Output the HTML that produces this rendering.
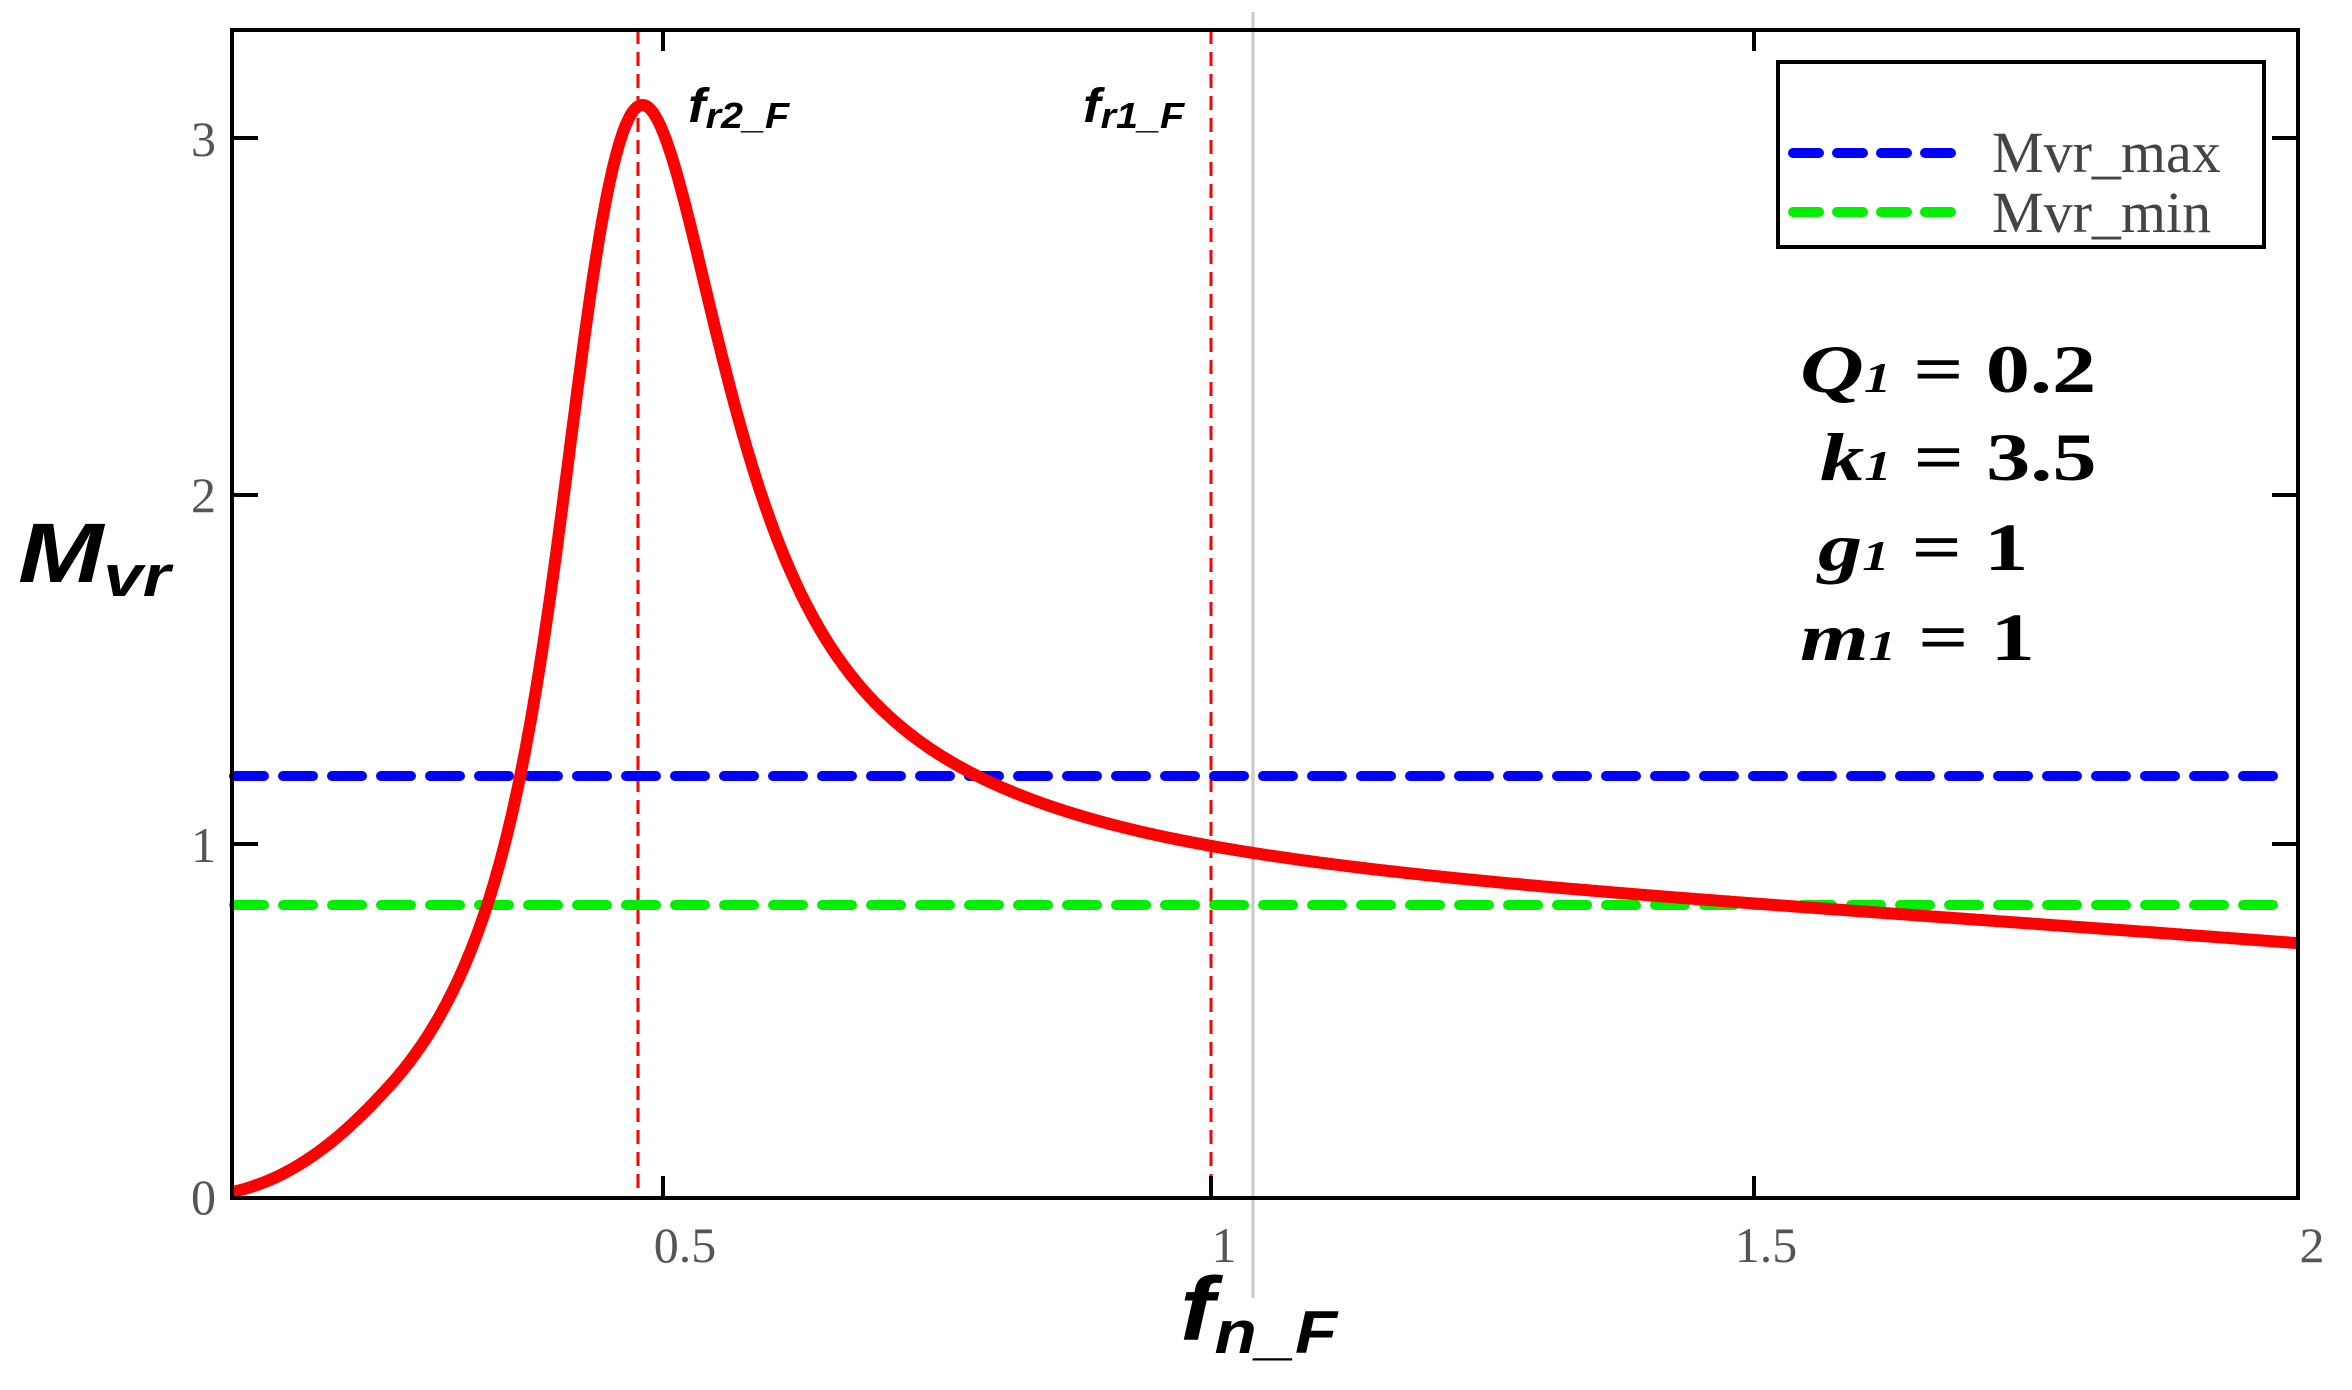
<!DOCTYPE html>
<html><head><meta charset="utf-8"><style>
html,body{margin:0;padding:0;background:#fff;}
svg{display:block;}
</style></head><body>
<svg id="s" width="2352" height="1390" viewBox="0 0 2352 1390" xmlns="http://www.w3.org/2000/svg">
<rect width="2352" height="1390" fill="#fff"/>
<line x1="1253" y1="12" x2="1253" y2="1298" stroke="#c8c8c8" stroke-width="3"/>
<line x1="638" y1="30" x2="638" y2="1197" stroke="#ff0000" stroke-width="3" stroke-dasharray="14,8"/>
<line x1="1211" y1="30" x2="1211" y2="1197" stroke="#ff0000" stroke-width="3" stroke-dasharray="14,8"/>
<line x1="234" y1="776" x2="2290" y2="776" stroke="#0000ff" stroke-width="10" stroke-dasharray="30,19" stroke-linecap="round"/>
<line x1="234" y1="905" x2="2290" y2="905" stroke="#00ee00" stroke-width="10" stroke-dasharray="30,19" stroke-linecap="round"/>
<path id="curve" d="" fill="none" stroke="#ff0000" stroke-width="12" stroke-linejoin="round"/>
<rect x="232" y="30" width="2066" height="1168" fill="none" stroke="#000" stroke-width="4"/>
<g stroke="#000" stroke-width="4">
<line x1="663" y1="1197" x2="663" y2="1176"/><line x1="1211" y1="1197" x2="1211" y2="1176"/><line x1="1754" y1="1197" x2="1754" y2="1176"/>
<line x1="663" y1="30" x2="663" y2="51"/><line x1="1754" y1="30" x2="1754" y2="51"/>
<line x1="232" y1="844" x2="258" y2="844"/><line x1="232" y1="495" x2="258" y2="495"/><line x1="232" y1="138" x2="258" y2="138"/>
<line x1="2298" y1="844" x2="2272" y2="844"/><line x1="2298" y1="495" x2="2272" y2="495"/><line x1="2298" y1="138" x2="2272" y2="138"/>
</g>
<g font-family="Liberation Serif, serif" font-size="50" fill="#555">
<text x="191" y="1214">0</text><text x="191" y="862">1</text><text x="191" y="512">2</text><text x="191" y="156">3</text>
<text x="685" y="1262" text-anchor="middle">0.5</text><text x="1224" y="1262" text-anchor="middle">1</text>
<text x="1766" y="1262" text-anchor="middle">1.5</text><text x="2312" y="1262" text-anchor="middle">2</text>
</g>
<text transform="translate(18,582) scale(1.22,1)" font-family="Liberation Sans, sans-serif" font-weight="bold" font-style="italic" font-size="84" fill="#000">M<tspan font-size="58" dy="14">vr</tspan></text>
<text transform="translate(1180,1340) scale(1.15,1)" font-family="Liberation Sans, sans-serif" font-weight="bold" font-style="italic" font-size="90" fill="#000">f<tspan font-size="60" dy="13">n_F</tspan></text>
<text transform="translate(688,122) scale(1.1,1)" font-family="Liberation Sans, sans-serif" font-weight="bold" font-style="italic" font-size="48" fill="#000">f<tspan font-size="36" dy="6">r2_F</tspan></text>
<text transform="translate(1083,122) scale(1.1,1)" font-family="Liberation Sans, sans-serif" font-weight="bold" font-style="italic" font-size="48" fill="#000">f<tspan font-size="36" dy="6">r1_F</tspan></text>
<rect x="1778" y="62" width="486" height="185" fill="#fff" stroke="#000" stroke-width="4"/>
<line x1="1793" y1="153" x2="1960" y2="153" stroke="#0000ff" stroke-width="10" stroke-dasharray="26,18" stroke-linecap="round"/>
<line x1="1793" y1="212" x2="1960" y2="212" stroke="#00ee00" stroke-width="10" stroke-dasharray="26,18" stroke-linecap="round"/>
<g font-family="Liberation Serif, serif" font-size="58" fill="#444">
<text x="1992" y="172">Mvr_max</text><text x="1992" y="232">Mvr_min</text>
</g>
<g font-family="Liberation Serif, serif" font-weight="bold" font-size="68" fill="#000">
<text transform="translate(1800,392) scale(1.3,1)"><tspan font-style="italic">Q</tspan><tspan font-style="italic" font-size="42">1</tspan> = 0.2</text>
<text transform="translate(1820,480) scale(1.3,1)"><tspan font-style="italic">k</tspan><tspan font-style="italic" font-size="42">1</tspan> = 3.5</text>
<text transform="translate(1818,570) scale(1.3,1)"><tspan font-style="italic">g</tspan><tspan font-style="italic" font-size="42">1</tspan> = 1</text>
<text transform="translate(1800,660) scale(1.3,1)"><tspan font-style="italic">m</tspan><tspan font-style="italic" font-size="42">1</tspan> = 1</text>
</g>
</svg>
<script>
(function(){
var k=3.5,Q=0.2,d="",fp=0.471,c=0.464;
for(var i=0;i!==1001;i++){
 var f=0.104+(2.0-0.104)*i/1000;
 var w=(c>f)?0.07:0.14;
 var u=(f-c)/w;
 var fe=fp+(f-c)*(1-0.22*Math.exp(-u*u));
 var a=1+1/k-1/(k*fe*fe), b=Q*(fe-1/fe);
 var M=1/Math.sqrt(a*a+b*b);
 if(f>1) M*=1-0.1*(f-1)*(f-1);
 if(0.25>f) M*=1-0.7*Math.pow((0.25-f)/0.146,2);
 var x=232+(f-0.104)*(2298-232)/(2-0.104);
 var y=1197-M*353;
 d+=(i?"L":"M")+x.toFixed(1)+" "+y.toFixed(1);
}
document.getElementById("curve").setAttribute("d",d);
})();
</script>
</body></html>
